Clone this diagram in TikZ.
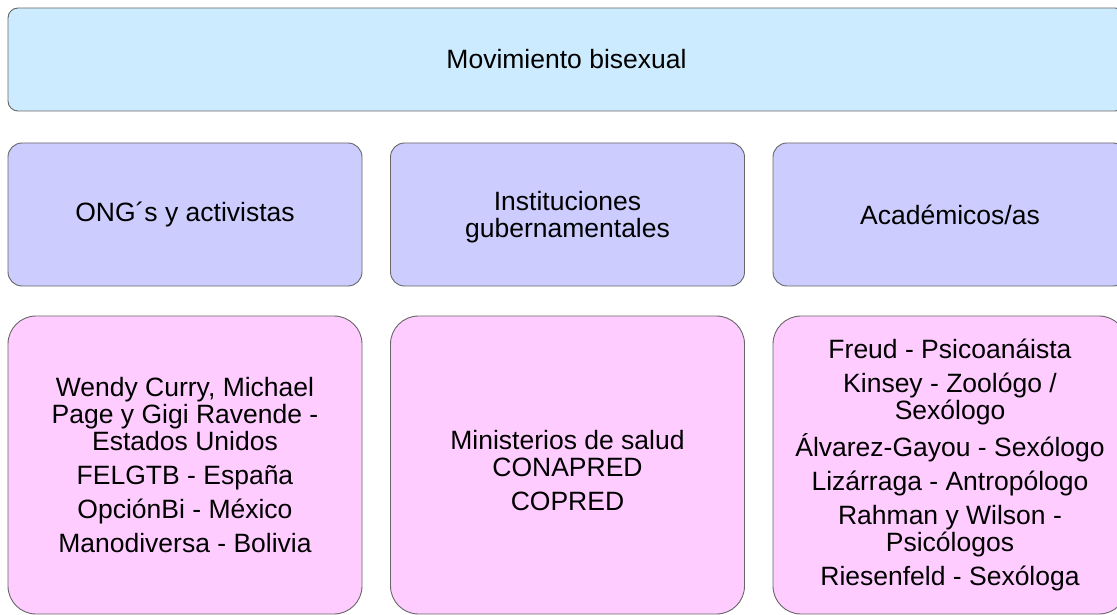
\documentclass[tikz,border=0pt]{standalone}
\usepackage{fontspec}
\setmainfont{Liberation Sans}
\definecolor{topfill}{HTML}{CCEBFF}
\definecolor{midfill}{HTML}{CCCCFF}
\definecolor{lowfill}{HTML}{FFCCFF}
\begin{document}
\begin{tikzpicture}[x=1pt,y=-1pt,
  box/.style={draw=black!60, line width=0.9pt, align=center, inner sep=0pt,
    font=\fontsize{26.5}{27}\selectfont},
  topbox/.style={box, fill=topfill, rounded corners=10pt, minimum width=1117pt, minimum height=103pt},
  midbox/.style={box, fill=midfill, rounded corners=14pt, minimum width=354pt, minimum height=143pt},
  lowbox/.style={box, fill=lowfill, rounded corners=28pt, minimum width=354pt, minimum height=298pt}]
\useasboundingbox (0,0) rectangle (1117,615);
\clip (0,0) rectangle (1117,615);
\node[topbox] (top) at (566.5,59.5) {Movimiento bisexual};
\node[midbox] (ong) at (185,214.5) {ONG´s y activistas};
\node[midbox] (inst) at (567.5,214.5) {\rule{0pt}{24pt}Instituciones\\gubernamentales};
\node[midbox] (acad) at (950,214.5) {Académicos/as};
\node[lowbox] (ongl) at (185,465) {Wendy Curry, Michael\\Page y Gigi Ravende -\\Estados Unidos\\[7pt]FELGTB - España\\[7pt]OpciónBi - México\\[7pt]Manodiversa - Bolivia};
\node[lowbox] (instl) at (567.5,465) {\rule{0pt}{31pt}Ministerios de salud\\CONAPRED\\[7pt]COPRED};
\node[lowbox] (acadl) at (950,465) {Freud - Psicoanáista\\[7pt]Kinsey - Zoológo /\\Sexólogo\\[7pt]Álvarez-Gayou - Sexólogo\\[7pt]Lizárraga - Antropólogo\\[7pt]Rahman y Wilson -\\Psicólogos\\[7pt]Riesenfeld - Sexóloga};
\end{tikzpicture}
\end{document}
